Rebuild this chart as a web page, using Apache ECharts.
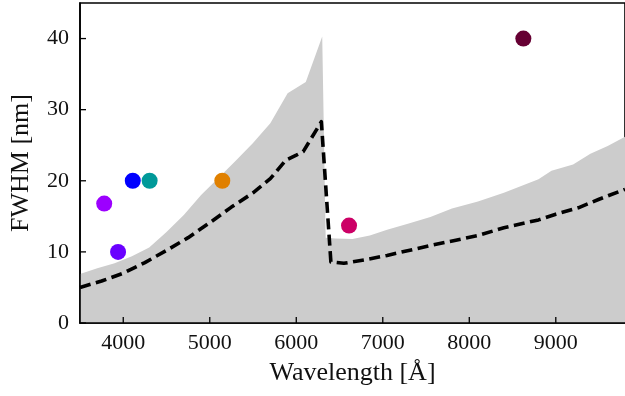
<!DOCTYPE html>
<html>
<head>
<meta charset="utf-8">
<script src="https://cdn.jsdelivr.net/npm/echarts@6/dist/echarts.min.js"></script>
<style>
  html, body { margin: 0; padding: 0; background: #fff; }
  #chart { width: 625px; height: 396px; }
</style>
</head>
<body>
<div id="chart"></div>
<script>
// Upper envelope of the resolution band (shaded region)
const bandWave = [3500, 3700, 3900, 4100, 4300, 4500, 4700, 4900, 5100, 5300, 5500, 5700, 5900, 6110, 6300, 6340, 6450, 6650, 6850, 7050, 7300, 7550, 7800, 8100, 8400, 8800, 8950, 9200, 9400, 9600, 9800];
const bandFwhm = [6.9, 7.7, 8.4, 9.4, 10.6, 12.8, 15.2, 18.0, 20.4, 22.8, 25.3, 28.1, 32.3, 33.9, 40.3, 12.0, 11.9, 11.8, 12.3, 13.1, 14.0, 14.9, 16.1, 17.1, 18.3, 20.2, 21.4, 22.3, 23.8, 24.9, 26.2];

// Typical resolution curve (dashed)
const curveWave = [3500, 3750, 4000, 4250, 4500, 4750, 5000, 5250, 5500, 5700, 5880, 6000, 6080, 6290, 6400, 6550, 6800, 7050, 7550, 8100, 8400, 8800, 9000, 9260, 9500, 9800];
const curveFwhm = [5.0, 5.9, 7.0, 8.5, 10.2, 12.0, 14.1, 16.3, 18.3, 20.3, 22.9, 23.6, 24.1, 28.3, 8.6, 8.4, 8.9, 9.5, 10.9, 12.3, 13.4, 14.5, 15.3, 16.2, 17.4, 18.8];

// Individual filters
const filterWave = [3780, 3940, 4110, 4305, 5145, 6610, 8625];
const filterFwhm = [16.8, 10, 20, 20, 20, 13.7, 40];
const filterColor = ['#9c00ff', '#6a00ff', '#0000ff', '#009999', '#e08000', '#cc0066', '#660033'];

// Axis ranges and tick positions
const xRange = [3500, 9800];
const yRange = [0, 45];
const xTicks = [4000, 5000, 6000, 7000, 8000, 9000];
const yTicks = [0, 10, 20, 30, 40];

const font = '"Liberation Serif", "DejaVu Serif", serif';
const pair = (xs, ys) => xs.map((x, i) => [x, ys[i]]);
const plain = v => String(v);
const TICK_LEN = 6;

// Inward tick marks, placed through the axis scales
function tickSeries(values, horizontal) {
  return {
    type: 'custom', z: 6, silent: true, clip: false,
    data: values.map(v => horizontal ? [v, yRange[0]] : [xRange[0], v]),
    renderItem: (params, api) => {
      const p = api.coord([api.value(0), api.value(1)]);
      const shape = horizontal
        ? { x1: p[0], y1: p[1], x2: p[0], y2: p[1] - TICK_LEN }
        : { x1: p[0], y1: p[1], x2: p[0] + TICK_LEN, y2: p[1] };
      return { type: 'line', shape, style: { stroke: '#000', lineWidth: 1.3 } };
    }
  };
}

const chart = echarts.init(document.getElementById('chart'), null, { renderer: 'canvas' });
chart.setOption({
  animation: false,
  backgroundColor: '#fff',
  grid: {
    left: 80, right: -3, top: 3, bottom: 73,
    show: true, borderColor: '#000', borderWidth: 1.6, backgroundColor: 'transparent'
  },
  xAxis: {
    type: 'value', min: xRange[0], max: xRange[1], z: 10,
    name: 'Wavelength [Å]', nameLocation: 'middle', nameGap: 37,
    nameTextStyle: { fontFamily: font, fontSize: 26, color: '#111' },
    axisLine: { show: true, onZero: false, lineStyle: { color: '#000', width: 1.6 } },
    axisTick: { show: false },
    axisLabel: { customValues: xTicks, formatter: plain, fontFamily: font, fontSize: 22, color: '#111', margin: 9 },
    splitLine: { show: false }
  },
  yAxis: {
    type: 'value', min: yRange[0], max: yRange[1], z: 10,
    name: 'FWHM [nm]', nameLocation: 'middle', nameGap: 46,
    nameTextStyle: { fontFamily: font, fontSize: 26, color: '#111' },
    axisLine: { show: true, onZero: false, lineStyle: { color: '#000', width: 1.6 } },
    axisTick: { show: false },
    axisLabel: { customValues: yTicks, formatter: plain, fontFamily: font, fontSize: 22, color: '#111', margin: 11 },
    splitLine: { show: false }
  },
  series: [
    {
      type: 'line', data: pair(bandWave, bandFwhm), symbol: 'none', z: 1,
      lineStyle: { width: 0 }, areaStyle: { color: '#cccccc', opacity: 1 }, silent: true
    },
    {
      type: 'line', data: pair(curveWave, curveFwhm), symbol: 'none', z: 2,
      lineStyle: { color: '#000', width: 3.6, type: [11, 5.5], cap: 'butt', join: 'round' }, silent: true
    },
    {
      type: 'scatter', z: 3, symbolSize: 16,
      itemStyle: { opacity: 1 },
      data: filterWave.map((w, i) => ({ value: [w, filterFwhm[i]], itemStyle: { color: filterColor[i], opacity: 1 } }))
    },
    tickSeries(xTicks, true),
    tickSeries(yTicks, false)
  ]
});
</script>
</body>
</html>
